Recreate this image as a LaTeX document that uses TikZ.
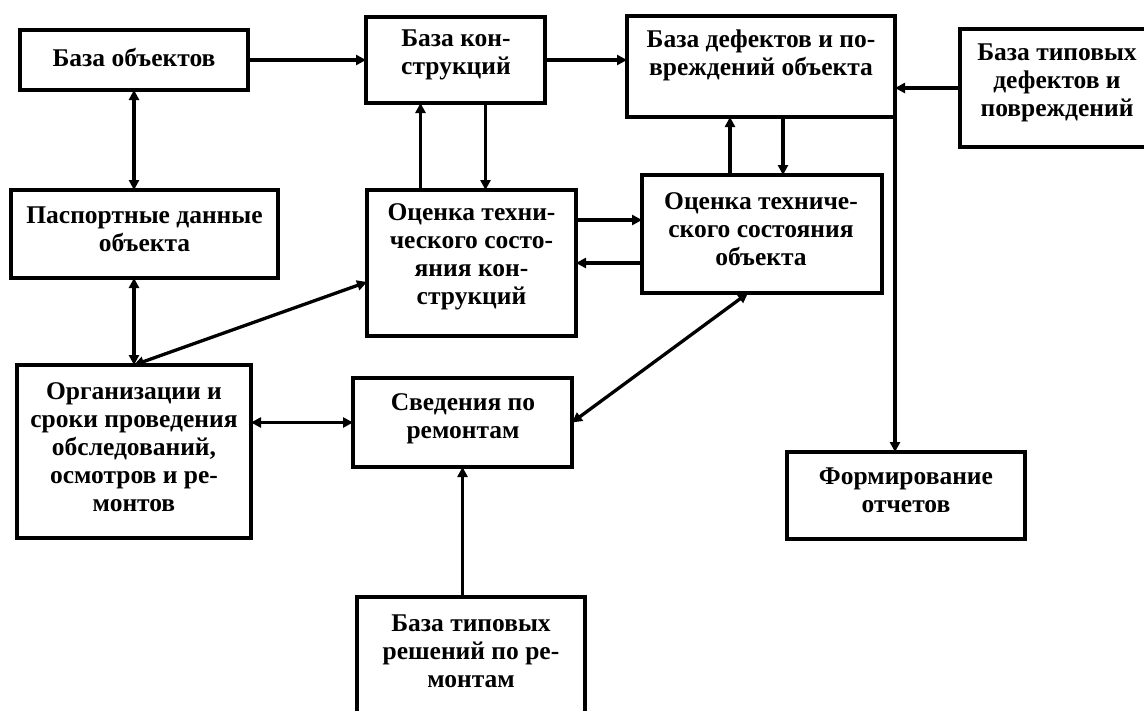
\documentclass[tikz,border=0pt]{standalone}
\usepackage{fontspec}
\setmainfont{Liberation Serif}
\usetikzlibrary{arrows.meta}
\begin{document}
\begin{tikzpicture}[x=1pt,y=-1pt,
  box/.style={draw,line width=4.8pt,inner sep=0pt,outer sep=0pt},
  txt/.style={font=\fontsize{25.5}{28}\selectfont\bfseries,align=center,inner sep=0pt},
  arr/.style={line width=3.3pt,-{Triangle[length=10pt,width=10pt]}},
  darr/.style={line width=3.3pt,{Triangle[length=10pt,width=10pt]}-{Triangle[length=10pt,width=10pt]}},
  ln/.style={line width=3.3pt}]
\useasboundingbox (0,0) rectangle (1144,710);
\fill[white] (0,0) rectangle (1144,710);
% boxes: centre, width, height (pixel coordinates)
\node[box,minimum width=228pt,minimum height=60pt] (A) at (134,60) {};
\node[box,minimum width=179pt,minimum height=86pt] (B) at (455.5,60) {};
\node[box,minimum width=268pt,minimum height=101pt] (C) at (761,66.5) {};
\node[box,minimum width=194pt,minimum height=118pt] (D) at (1057,88) {};
\node[box,minimum width=267pt,minimum height=88pt] (E) at (144.5,234) {};
\node[box,minimum width=209pt,minimum height=146pt] (F) at (471.5,263) {};
\node[box,minimum width=240pt,minimum height=118pt] (G) at (762,234) {};
\node[box,minimum width=234pt,minimum height=173pt] (H) at (134,451.5) {};
\node[box,minimum width=219pt,minimum height=89pt] (I) at (462.5,422.5) {};
\node[box,minimum width=238pt,minimum height=87pt] (J) at (906,495.5) {};
\node[box,minimum width=228pt,minimum height=120pt] (K) at (471,657) {};
% texts
\node[txt] (At) at (134,57) {База объектов};
\node[txt] (Bt) at (456,55) {База кон-\\струкций};
\node[txt] (Ct) at (761,55) {База дефектов и по-\\вреждений объекта};
\node[txt] (Dt) at (1057,83) {База типовых\\дефектов и\\повреждений};
\node[txt] (Et) at (144.5,229) {Паспортные данные\\объекта};
\node[txt] (Ft) at (471.5,257) {Оценка техни-\\ческого состо-\\яния кон-\\струкций};
\node[txt] (Gt) at (761,229) {Оценка техниче-\\ского состояния\\объекта};
\node[txt] (Ht) at (134,447) {Организации и\\сроки проведения\\обследований,\\осмотров и ре-\\монтов};
\node[txt] (It) at (463,419) {Сведения по\\ремонтам};
\node[txt] (Jt) at (906,490) {Формирование\\отчетов};
\node[txt] (Kt) at (471,651) {База типовых\\решений по ре-\\монтам};
% connectors
\draw[arr] (A.east) -- (A.east -| B.west);
\draw[arr] (B.east) -- (B.east -| C.west);
\draw[arr] (D.west) -- (D.west -| C.east);
\draw[darr] (A.south) -- (A.south |- E.north);
\draw[darr] (H.north) -- (H.north |- E.south);
\draw[darr] (H.north) -- ([yshift=-19pt]F.west);
\draw[arr] ([xshift=-51pt]F.north) -- ([xshift=-51pt]F.north |- B.south);
\draw[arr] ([xshift=14pt]F.north |- B.south) -- ([xshift=14pt]F.north);
\draw[arr] ([yshift=43pt]F.east) -- ([yshift=43pt]F.east -| G.west);
\draw[arr] (G.west |- F.east) -- (F.east);
\draw[arr] ([xshift=-32pt]G.north) -- ([xshift=-32pt]G.north |- C.south);
\draw[arr] ([xshift=21pt]G.north |- C.south) -- ([xshift=21pt]G.north);
\draw[arr] (C.south east) -- (C.south east |- J.north);
\draw[darr] (I.east) -- ([xshift=-14pt]G.south);
\draw[darr] (I.west -| H.east) -- (I.west);
\draw[arr] (I.south |- K.north) -- (I.south);
\end{tikzpicture}
\end{document}
